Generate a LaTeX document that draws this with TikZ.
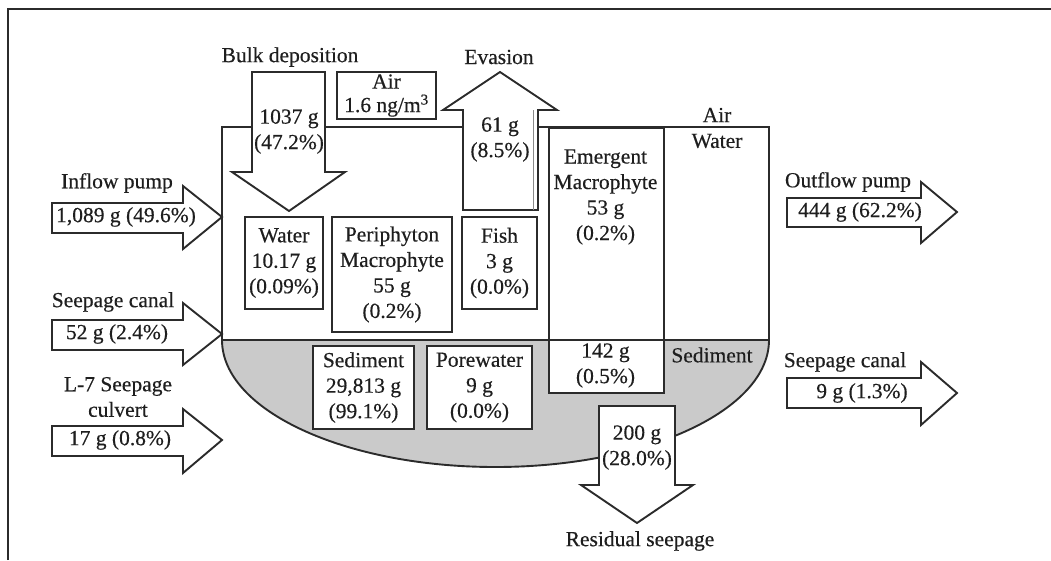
\documentclass[tikz,border=0pt]{standalone}
\usepackage{fontspec}
\setmainfont[FakeBold=0.4]{Liberation Serif}
\definecolor{lc}{HTML}{2B2B2B}
\definecolor{tc}{HTML}{1E1E1E}
\definecolor{sedgray}{HTML}{CACACA}
\begin{document}
\begin{tikzpicture}[x=1pt,y=-1pt,
  ln/.style={draw=lc, line width=1.9pt, line join=miter},
  bx/.style={ln, fill=white},
  blk/.style={ln, fill=white},
  txt/.style={align=center, inner sep=0pt, text=tc, font=\fontsize{21.5}{25.5}\selectfont},
]
\useasboundingbox (0,0) rectangle (1051,560);

% outer frame (open at right and bottom)
\draw[draw=lc, line width=1.5pt] (8,560) -- (8,9) -- (1051,9);

% tank corners
\coordinate (tl) at (222,127);
\coordinate (tr) at (769,127);
\coordinate (sl) at (222,340);
\coordinate (sr) at (769,340);

% sediment fill
\fill[sedgray] (sl) arc[start angle=180, end angle=360, x radius=273.5pt, y radius=127pt] -- cycle;
% tank outline
\draw[ln] (tl) -- (sl) arc[start angle=180, end angle=360, x radius=273.5pt, y radius=127pt] -- (tr) -- cycle;

% compartments
\node[bx, txt, minimum width=99pt, minimum height=47pt] (air) at (386.5,95.5) {Air\\[-2pt]1.6 ng/m\textsuperscript{3}};
\node[bx, txt, minimum width=78pt, minimum height=92pt] (water) at (284,263) {Water\\10.17 g\\(0.09\%)};
\node[bx, txt, minimum width=120pt, minimum height=115pt] (peri) at (392,274.5) {Periphyton\\Macrophyte\\55 g\\(0.2\%)};
\node[bx, txt, minimum width=75pt, minimum height=92pt] (fish) at (499.5,263) {Fish\\3 g\\(0.0\%)};
\node[bx, minimum width=115pt, minimum height=265pt, anchor=north west] (emerg) at (548,127) {};
\node[txt] (emergtxt) at (605.5,197) {Emergent\\Macrophyte\\53 g\\(0.2\%)};
\node[txt] (emergsed) at (605.5,365.5) {142 g\\(0.5\%)};
\node[bx, txt, minimum width=101pt, minimum height=83pt] (sed) at (363.5,387.5) {Sediment\\29,813 g\\(99.1\%)};
\node[bx, txt, minimum width=105pt, minimum height=83pt] (pore) at (479.5,387.5) {Porewater\\9 g\\(0.0\%)};

% water / sediment interface (crosses the emergent macrophyte column)
\draw[ln] (sl) -- (sr);

% layer labels
\node[txt] (lair) at (717,115) {Air};
\node[txt] (lwater) at (717,141) {Water};
\node[txt] (lsed) at (712,355) {Sediment};

% bulk deposition arrow (down)
\draw[blk] (252,72) -- (325,72) -- (325,172) -- (345,172) -- (289,211) -- (232,172) -- (252,172) -- cycle;
\node[txt] (bulklab) at (290,57) {Bulk deposition};
\node[txt] (bulkval) at (289,131.5) {1037 g\\(47.2\%)};

% evasion arrow (up)
\draw[blk] (463,210) -- (463,110) -- (443,110) -- (500,72) -- (557,110) -- (538,110) -- (538,210) -- cycle;
\draw[draw=lc!55, line width=1pt] (533,110) -- (533,210);
\node[txt] (evalab) at (499,57) {Evasion};
\node[txt] (evaval) at (500,139.5) {61 g\\(8.5\%)};

% residual seepage arrow (down)
\draw[blk] (599,406) -- (675,406) -- (675,485) -- (693,485) -- (637,523) -- (581,485) -- (599,485) -- cycle;
\node[txt] (reslab) at (640,541) {Residual seepage};
\node[txt] (resval) at (637,447.5) {200 g\\(28.0\%)};

% inflow pump
\draw[blk] (52,203) -- (183,203) -- (183,186) -- (222,217) -- (183,249) -- (183,233) -- (52,233) -- cycle;
\node[txt] (inlab) at (117,183) {Inflow pump};
\node[txt] (inval) at (126,217) {1,089 g (49.6\%)};

% seepage canal (in)
\draw[blk] (52,320) -- (183,320) -- (183,303) -- (222,334) -- (183,365) -- (183,350) -- (52,350) -- cycle;
\node[txt] (sclab) at (113,302) {Seepage canal};
\node[txt] (scval) at (117,334) {52 g (2.4\%)};

% L-7 seepage culvert
\draw[blk] (52,426) -- (183,426) -- (183,409) -- (222,440) -- (183,473) -- (183,456) -- (52,456) -- cycle;
\node[txt] (l7lab) at (118,397) {L-7 Seepage\\culvert};
\node[txt] (l7val) at (120,440) {17 g (0.8\%)};

% outflow pump
\draw[blk] (787,198) -- (921,198) -- (921,182) -- (957,212) -- (921,243) -- (921,227) -- (787,227) -- cycle;
\node[txt] (outlab) at (848,182) {Outflow pump};
\node[txt] (outval) at (860,212) {444 g (62.2\%)};

% seepage canal (out)
\draw[blk] (787,378) -- (921,378) -- (921,362) -- (957,393) -- (921,425) -- (921,408) -- (787,408) -- cycle;
\node[txt] (sc2lab) at (845,362) {Seepage canal};
\node[txt] (sc2val) at (862,393) {9 g (1.3\%)};

\end{tikzpicture}
\end{document}
